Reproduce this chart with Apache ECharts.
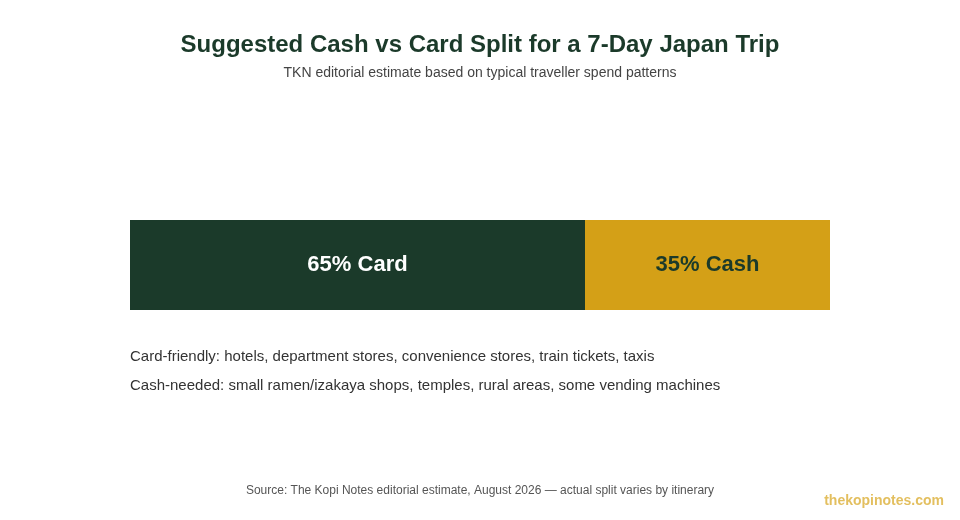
<!DOCTYPE html>
<html>
<head>
<meta charset="utf-8">
<title>Cash vs Card Split</title>
<script src="https://cdn.jsdelivr.net/npm/echarts@6/dist/echarts.min.js"></script>
<style>
  html, body { margin: 0; padding: 0; background: #fff; }
  #main { width: 960px; height: 520px; }
</style>
</head>
<body>
<div id="main"></div>
<script>
  // data
  var categories = ['Trip'];
  var segmentNames = ['Card', 'Cash'];
  var cardShare = [65];
  var cashShare = [35];
  var notes = [
    'Card-friendly: hotels, department stores, convenience stores, train tickets, taxis',
    'Cash-needed: small ramen/izakaya shops, temples, rural areas, some vending machines'
  ];

  var green = '#1b3a2a';
  var gold = '#d4a017';
  var font = '"Liberation Sans", Arial, Helvetica, sans-serif';

  var myChart = echarts.init(document.getElementById('main'));
  var option = {
    backgroundColor: '#ffffff',
    animation: false,
    textStyle: { fontFamily: font },
    title: [{
      text: 'Suggested Cash vs Card Split for a 7-Day Japan Trip',
      left: 'center',
      top: 28,
      textStyle: { fontSize: 24, fontWeight: 'bold', color: green, fontFamily: font }
    }, {
      text: 'TKN editorial estimate based on typical traveller spend patterns',
      left: 'center',
      top: 61,
      textStyle: { fontSize: 14, fontWeight: 'normal', color: '#444', fontFamily: font }
    }],
    grid: { left: 130, right: 130, top: 220, height: 90 },
    xAxis: { type: 'value', min: 0, max: 100, show: false },
    yAxis: { type: 'category', data: categories, show: false },
    series: [{
      name: segmentNames[0],
      type: 'bar',
      stack: 'split',
      barWidth: '100%',
      data: cardShare,
      itemStyle: { color: green },
      label: {
        show: true,
        position: 'inside',
        formatter: function (p) { return p.value + '% ' + segmentNames[0]; },
        color: '#ffffff',
        fontSize: 22,
        fontWeight: 'bold',
        fontFamily: font
      }
    }, {
      name: segmentNames[1],
      type: 'bar',
      stack: 'split',
      barWidth: '100%',
      data: cashShare,
      itemStyle: { color: gold },
      label: {
        show: true,
        position: 'inside',
        formatter: function (p) { return p.value + '% ' + segmentNames[1]; },
        color: green,
        fontSize: 22,
        fontWeight: 'bold',
        fontFamily: font
      }
    }],
    graphic: [{
      type: 'text',
      left: 130,
      top: 349,
      style: { text: notes[0], fontSize: 15, fill: '#333', fontFamily: font }
    }, {
      type: 'text',
      left: 130,
      top: 378,
      style: { text: notes[1], fontSize: 15, fill: '#333', fontFamily: font }
    }, {
      type: 'text',
      left: 'center',
      top: 485,
      style: {
        text: 'Source: The Kopi Notes editorial estimate, August 2026 \u2014 actual split varies by itinerary',
        fontSize: 12, fill: '#555', fontFamily: font
      }
    }, {
      type: 'text',
      right: 16,
      top: 494,
      style: { text: 'thekopinotes.com', fontSize: 14, fontWeight: 'bold', fill: '#e3bf5f', fontFamily: font }
    }]
  };
  myChart.setOption(option);
</script>
</body>
</html>
